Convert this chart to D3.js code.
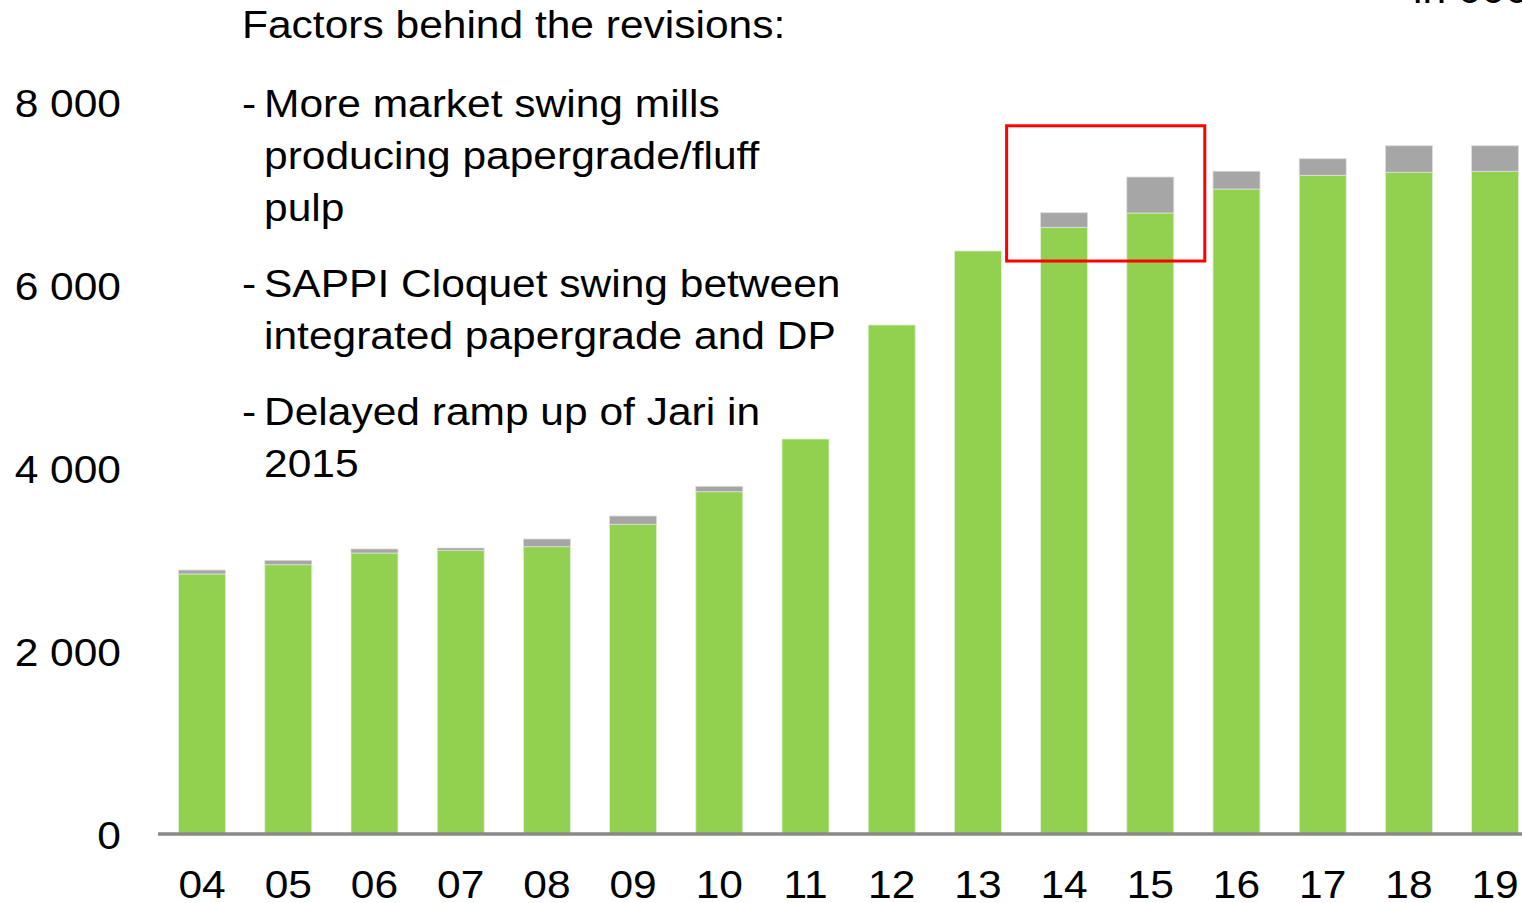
<!DOCTYPE html>
<html><head><meta charset="utf-8">
<script src="https://cdn.jsdelivr.net/npm/d3@7"></script>
<style>
html,body{margin:0;padding:0;background:#fff;overflow:hidden;}
svg{display:block;font-family:"Liberation Sans",Arial,sans-serif;}
</style></head>
<body>
<svg id="chart" width="1522" height="903"></svg>
<script>
const years = ["04","05","06","07","08","09","10","11","12","13","14","15","16","17","18","19"];
const baseValues = [2842,2943,3071,3100,3140,3385,3741,4317,5563,6372,6631,6787,7049,7199,7232,7243];
const revisionValues = [43,48,44,26,84,90,59,0,0,0,159,393,194,181,290,279];
const yTicks = [0,2000,4000,6000,8000];
const notes = [
  ["-", "More market swing mills", "producing papergrade/fluff", "pulp"],
  ["-", "SAPPI Cloquet swing between", "integrated papergrade and DP"],
  ["-", "Delayed ramp up of Jari in", "2015"]
];
const title = "Factors behind the revisions:";
const unitLabel = "in 000 t";
const highlightYears = ["14","15"];

const FS = "39px", SX = 1.09;
const svg = d3.select("#chart");
const x = d3.scaleBand().domain(years).range([159, 159 + 86.2*16]).paddingInner(0.455).paddingOuter(0.2275);
const y = d3.scaleLinear().domain([0, 8000]).range([834, 102]);

const data = years.map((yr,i)=>({yr, base:baseValues[i], rev:revisionValues[i]}));

// bars
const g = svg.append("g");
g.selectAll("rect.base").data(data).join("rect")
  .attr("class","base")
  .attr("x", d=>x(d.yr)).attr("width", x.bandwidth())
  .attr("y", d=>y(d.base)).attr("height", d=>y(0)-y(d.base))
  .attr("fill","#92D050").attr("stroke","#e2efd5").attr("stroke-width",0.8);
g.selectAll("rect.rev").data(data.filter(d=>d.rev>0)).join("rect")
  .attr("class","rev")
  .attr("x", d=>x(d.yr)).attr("width", x.bandwidth())
  .attr("y", d=>y(d.base+d.rev)).attr("height", d=>y(d.base)-y(d.base+d.rev))
  .attr("fill","#A6A6A6").attr("stroke","#dcdcdc").attr("stroke-width",0.8);

// x axis
const xAxis = svg.append("g").attr("transform","translate(0,834)")
  .call(d3.axisBottom(x).tickSize(0).tickPadding(0));
xAxis.select(".domain").remove();
xAxis.append("line").attr("x1",158).attr("x2",1522).attr("y1",0).attr("y2",0)
  .attr("stroke","#898989").attr("stroke-width",3.5);
xAxis.selectAll(".tick text").attr("dy",null).attr("y",0)
  .attr("transform",`translate(0,64) scale(${SX},1)`)
  .attr("font-size",FS).attr("fill","#000").attr("font-family","'Liberation Sans',Arial,sans-serif");

// y axis
const yAxis = svg.append("g").attr("transform","translate(121,0)")
  .call(d3.axisLeft(y).tickValues(yTicks).tickSize(0).tickPadding(0)
    .tickFormat(d=>d3.format(",")(d).replace(/,/g," ")));
yAxis.select(".domain").remove();
yAxis.selectAll(".tick text").attr("x",0).attr("dy","0.36em")
  .attr("transform",`scale(${SX},1)`)
  .attr("font-size",FS).attr("fill","#000")
  .attr("font-family","'Liberation Sans',Arial,sans-serif");

// highlight box
const hx0 = x(highlightYears[0]) - 34, hx1 = x(highlightYears[1]) + x.bandwidth() + 31;
svg.append("rect").attr("x",hx0).attr("y",y(7740)).attr("width",hx1-hx0).attr("height",y(6262)-y(7740))
  .attr("fill","none").attr("stroke","#FF0000").attr("stroke-width",3);

// annotation text
const t = svg.append("g").attr("font-size",FS).attr("fill","#000");
function addText(str, tx, ty){
  t.append("text").attr("transform",`translate(${tx},${ty}) scale(${SX},1)`).text(str);
}
addText(title, 242, 38);
const startY = [117, 297, 425];
notes.forEach((n,i)=>{
  addText(n[0], 242, startY[i]);
  n.slice(1).forEach((line,j)=> addText(line, 264, startY[i]+j*52));
});
addText(unitLabel, 1413, 3);
</script>
</body></html>
